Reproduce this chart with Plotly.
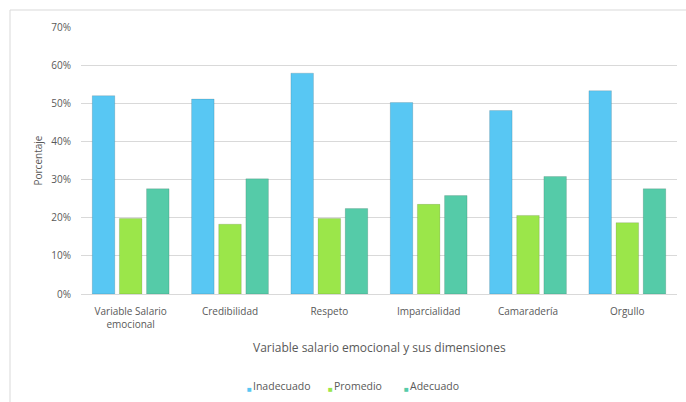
import plotly.graph_objects as go

categories = ["Variable Salario<br>emocional", "Credibilidad", "Respeto", "Imparcialidad", "Camaradería", "Orgullo"]
inadecuado = [0.52, 0.511, 0.579, 0.502, 0.481, 0.533]
promedio = [0.198, 0.183, 0.198, 0.235, 0.206, 0.187]
adecuado = [0.276, 0.302, 0.224, 0.258, 0.308, 0.276]
series_names = ["Inadecuado", "Promedio", "Adecuado"]
colors = ["#58c7f3", "#9be64a", "#55cba8"]
tickvals = [0, 0.1, 0.2, 0.3, 0.4, 0.5, 0.6, 0.7]
ticktext = ["0%", "10%", "20%", "30%", "40%", "50%", "60%", "70%"]

font = "Open Sans"
gray = "#595959"

fig = go.Figure()
for name, vals, col in zip(series_names, [inadecuado, promedio, adecuado], colors):
    fig.add_trace(go.Bar(
        x=categories, y=vals, name=name, showlegend=False,
        marker=dict(color=col, line=dict(color="rgba(0,0,0,0.12)", width=1)),
    ))

def px_x(p):
    return (p - 81) / 596

def px_y(p):
    return (294 - p) / 267

annotations = [
    dict(text="Variable salario emocional y sus dimensiones", xref="paper", yref="paper",
         x=0.5, y=px_y(347), xanchor="center", yanchor="middle",
         showarrow=False, font=dict(size=12, color=gray, family=font)),
    dict(text="Porcentaje", xref="paper", yref="paper",
         x=px_x(37), y=0.5, xanchor="center", yanchor="middle", textangle=-90,
         showarrow=False, font=dict(size=10, color=gray, family=font)),
]
legend_sq_x = [246, 327, 403]
for name, col, sx in zip(series_names, colors, legend_sq_x):
    annotations.append(dict(text="■", xref="paper", yref="paper", x=px_x(sx - 1), y=px_y(388),
                            xanchor="left", yanchor="middle", showarrow=False,
                            font=dict(size=8, color=col, family=font)))
    annotations.append(dict(text=name, xref="paper", yref="paper", x=px_x(sx + 5), y=px_y(386),
                            xanchor="left", yanchor="middle", showarrow=False,
                            font=dict(size=10.5, color=gray, family=font)))

fig.update_layout(
    width=686, height=402,
    margin=dict(l=81, r=9, t=27, b=108),
    paper_bgcolor="white", plot_bgcolor="white",
    barmode="group", bargap=0.18, bargroupgap=0.17,
    font=dict(family=font, size=10, color=gray),
    xaxis=dict(showgrid=False, showline=False, ticks="", ticklabelstandoff=10,
               tickfont=dict(size=10, color=gray)),
    yaxis=dict(range=[0, 0.7], tickvals=tickvals, ticktext=ticktext,
               showgrid=True, gridcolor="#d9d9d9", gridwidth=1,
               zeroline=True, zerolinecolor="#d9d9d9", zerolinewidth=1,
               ticks="", ticklabelstandoff=9, tickfont=dict(size=10, color=gray)),
    showlegend=False,
    annotations=annotations,
    shapes=[dict(type="rect", xref="paper", yref="paper",
                 x0=px_x(10), x1=1.2, y0=-0.6, y1=px_y(10),
                 line=dict(color="#d9d9d9", width=1), fillcolor="rgba(0,0,0,0)", layer="below")],
)

fig.write_html("out.html")
